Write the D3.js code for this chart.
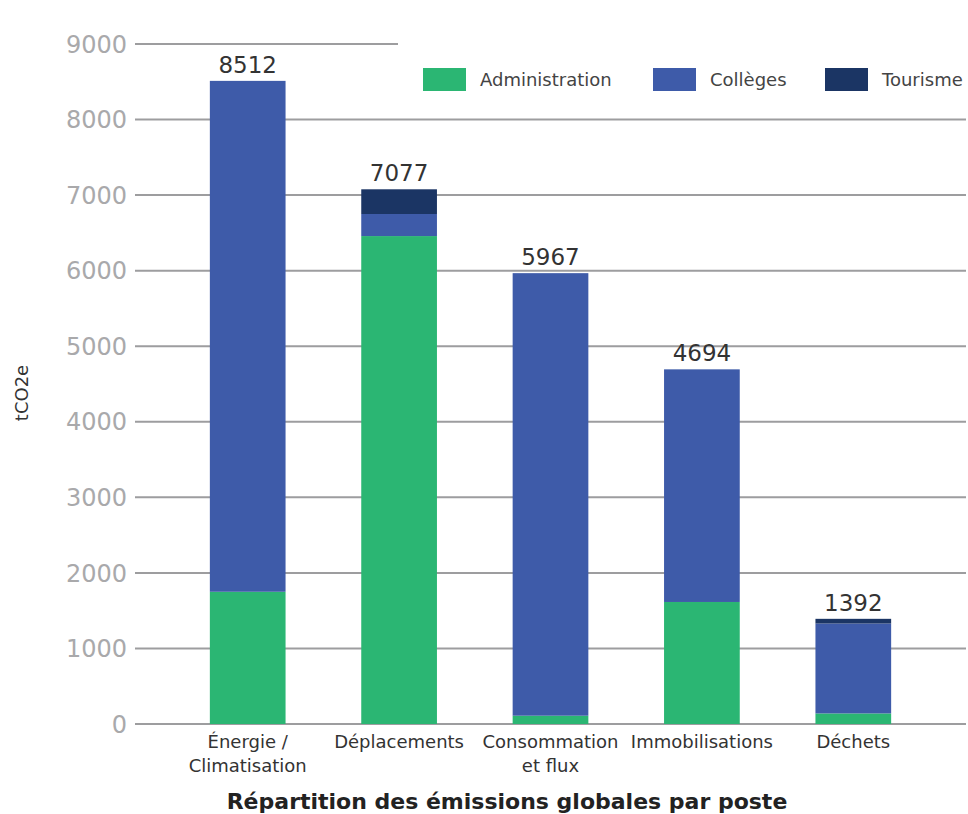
<!DOCTYPE html>
<html>
<head>
<meta charset="utf-8">
<script src="https://cdn.jsdelivr.net/npm/d3@7"></script>
<style>
  body { margin: 0; background: #fff; }
  text { font-family: "DejaVu Sans", sans-serif; }
</style>
</head>
<body>
<script>
// values (tCO2e)
const postes = ['Énergie / Climatisation', 'Déplacements', 'Consommation et flux', 'Immobilisations', 'Déchets'];
const postesLignes = [['Énergie /', 'Climatisation'], ['Déplacements'], ['Consommation', 'et flux'], ['Immobilisations'], ['Déchets']];
const administration = [1750, 6458, 110, 1615, 140];
const colleges = [6762, 292, 5857, 3079, 1190];
const tourisme = [0, 327, 0, 0, 62];
const totaux = [8512, 7077, 5967, 4694, 1392];
const series = ['Administration', 'Collèges', 'Tourisme'];
const couleurs = ['#2bb673', '#3e5ba9', '#1b3564'];
const yTicks = [0, 1000, 2000, 3000, 4000, 5000, 6000, 7000, 8000, 9000];

const width = 968, height = 814;

const svg = d3.select('body').append('svg')
  .attr('width', width)
  .attr('height', height);

const x = d3.scaleBand()
  .domain(postes)
  .range([172, 929])
  .paddingInner(0.5)
  .paddingOuter(0.25);

const y = d3.scaleLinear()
  .domain([0, 9000])
  .range([724, 44]);

// gridlines (the top one stops where the legend starts)
svg.append('g')
  .selectAll('line')
  .data(yTicks)
  .enter().append('line')
  .attr('x1', 135)
  .attr('x2', d => d === 9000 ? 398 : 966)
  .attr('y1', d => y(d))
  .attr('y2', d => y(d))
  .attr('stroke', '#9d9d9f')
  .attr('stroke-width', 2);

// tick labels
svg.append('g')
  .selectAll('text')
  .data(yTicks)
  .enter().append('text')
  .attr('x', 127)
  .attr('y', d => y(d))
  .attr('dy', '0.36em')
  .attr('text-anchor', 'end')
  .attr('font-size', 24)
  .attr('fill', '#a9a9ab')
  .text(d => d);

// stacked bars
const table = postes.map((p, i) => ({
  poste: p,
  Administration: administration[i],
  'Collèges': colleges[i],
  Tourisme: tourisme[i]
}));
const stack = d3.stack().keys(series)(table);

svg.append('g')
  .selectAll('g')
  .data(stack)
  .enter().append('g')
  .attr('fill', (d, i) => couleurs[i])
  .selectAll('rect')
  .data(d => d)
  .enter().append('rect')
  .attr('x', d => x(d.data.poste))
  .attr('width', x.bandwidth())
  .attr('y', d => y(d[1]))
  .attr('height', d => y(d[0]) - y(d[1]));

// totals
svg.append('g')
  .selectAll('text')
  .data(totaux)
  .enter().append('text')
  .attr('x', (d, i) => x(postes[i]) + x.bandwidth() / 2)
  .attr('y', d => y(d) - 8)
  .attr('text-anchor', 'middle')
  .attr('font-size', 23)
  .attr('fill', '#333')
  .text(d => d);

// category labels
const cats = svg.append('g')
  .selectAll('text')
  .data(postesLignes)
  .enter().append('text')
  .attr('x', (d, i) => x(postes[i]) + x.bandwidth() / 2)
  .attr('y', 748)
  .attr('text-anchor', 'middle')
  .attr('font-size', 18)
  .attr('fill', '#333');
cats.selectAll('tspan')
  .data(function (d, i) { return d.map(t => ({ t: t, cx: x(postes[i]) + x.bandwidth() / 2 })); })
  .enter().append('tspan')
  .attr('x', d => d.cx)
  .attr('dy', (d, j) => j === 0 ? 0 : 24)
  .text(d => d.t);

// axis titles
svg.append('text')
  .attr('x', 507)
  .attr('y', 809)
  .attr('text-anchor', 'middle')
  .attr('font-size', 22)
  .attr('font-weight', 'bold')
  .attr('fill', '#222')
  .text('Répartition des émissions globales par poste');

svg.append('text')
  .attr('transform', 'translate(28,393) rotate(-90)')
  .attr('text-anchor', 'middle')
  .attr('font-size', 18)
  .attr('fill', '#333')
  .text('tCO2e');

// legend
const legendX = [423, 653, 825];
const legend = svg.append('g')
  .selectAll('g')
  .data(series)
  .enter().append('g')
  .attr('transform', (d, i) => `translate(${legendX[i]},68)`);
legend.append('rect')
  .attr('width', 43)
  .attr('height', 23)
  .attr('fill', (d, i) => couleurs[i]);
legend.append('text')
  .attr('x', 57)
  .attr('y', 11.5)
  .attr('dy', '0.36em')
  .attr('font-size', 18)
  .attr('fill', '#444')
  .text(d => d);
</script>
</body>
</html>
